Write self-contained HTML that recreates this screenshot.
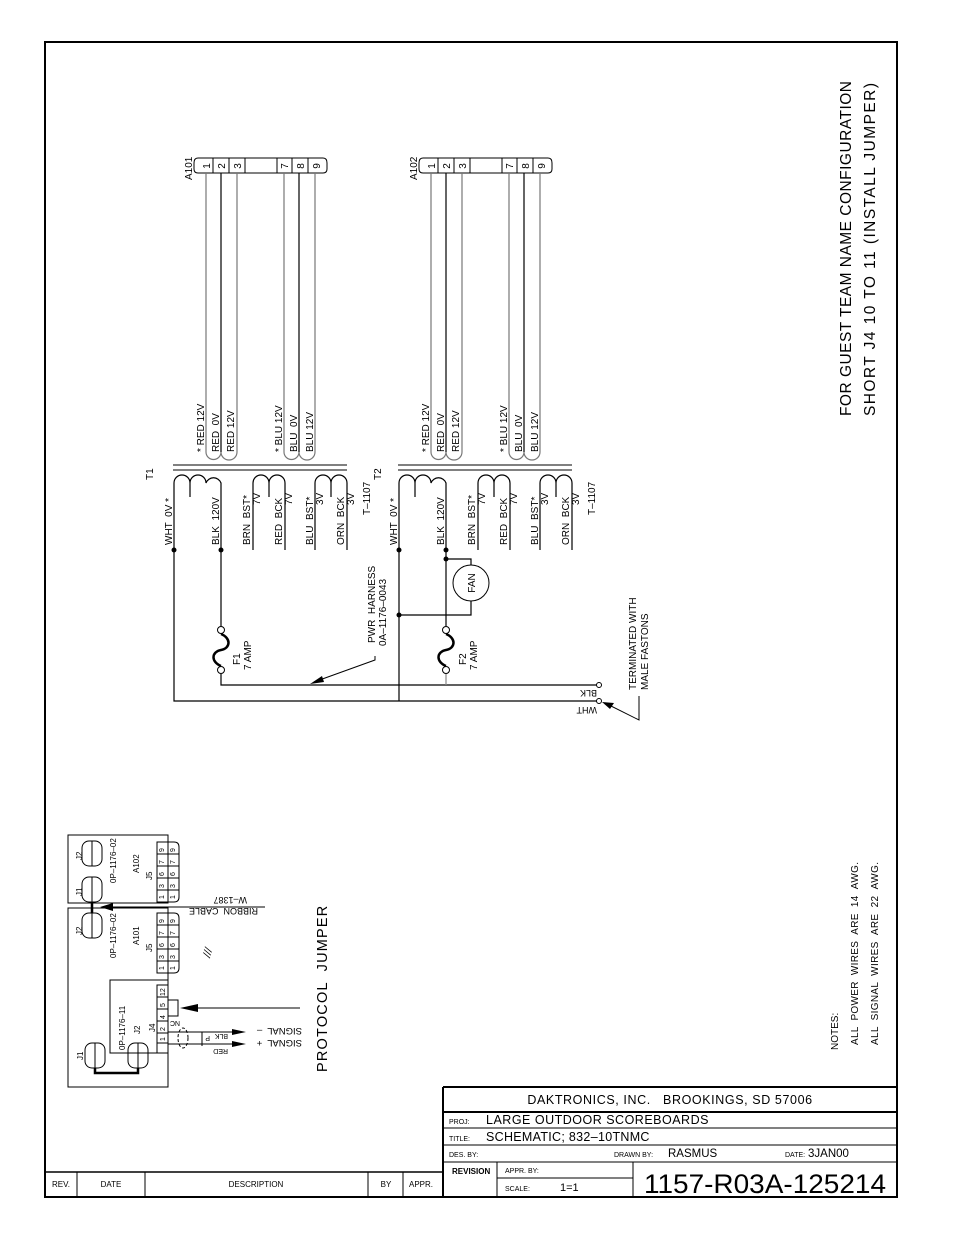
<!DOCTYPE html>
<html><head><meta charset="utf-8"><style>
html,body{margin:0;padding:0;background:#fff;}
svg{display:block;}
text{font-family:"Liberation Sans",sans-serif;fill:#000;}
</style></head><body>
<svg width="954" height="1235" viewBox="0 0 954 1235" xmlns="http://www.w3.org/2000/svg">
<defs>
<g id="xf">
 <path d="M198,158 H323 Q327,158 327,163 V169 Q327,173 323,173 H198 Q194,173 194,169 V163 Q194,158 198,158 Z" fill="none" stroke="#000" stroke-width="1"/>
 <path d="M213,158V173M229,158V173M245,158V173M277,158V173M292,158V173M308,158V173" stroke="#000" stroke-width="1"/>
 <g font-size="10">
  <text transform="translate(210,166) rotate(-90)" text-anchor="middle">1</text>
  <text transform="translate(225,166) rotate(-90)" text-anchor="middle">2</text>
  <text transform="translate(241,166) rotate(-90)" text-anchor="middle">3</text>
  <text transform="translate(288,166) rotate(-90)" text-anchor="middle">7</text>
  <text transform="translate(304,166) rotate(-90)" text-anchor="middle">8</text>
  <text transform="translate(320,166) rotate(-90)" text-anchor="middle">9</text>
 </g>
 <g fill="none" stroke-width="1.2">
  <path d="M206,173 V452 A7.5,7.5 0 0 0 221,452 A8,8 0 0 0 237,452 V173" stroke="#777"/>
  <path d="M221,173 V452" stroke="#000"/>
  <path d="M284,173 V452 A7.5,7.5 0 0 0 299,452 A8,8 0 0 0 315,452 V173" stroke="#777"/>
  <path d="M299,173 V452" stroke="#000"/>
 </g>
 <path d="M173,465H347M173,470H347" stroke="#000" stroke-width="1"/>
 <g fill="none" stroke="#000" stroke-width="1.2">
  <path d="M174,490 V483 A8,8 0 0 1 190,483 A8,8 0 0 1 206,483 A8,8 0 0 1 221,483 V550"/>
  <path d="M174,490 V550"/>
  <path d="M253,490 V483 A8,8 0 0 1 269,483 A8,8 0 0 1 285,483 V550"/>
  <path d="M253,490 V550"/>
  <path d="M315,490 V483 A8,8 0 0 1 331,483 A8,8 0 0 1 347,483 V550"/>
  <path d="M315,490 V550"/>
  <path d="M190,483 V497 M269,483V497 M331,483V497"/>
 </g>
 <circle cx="174" cy="550" r="2.5" fill="#000"/>
 <circle cx="221" cy="550" r="2.5" fill="#000"/>
 <g font-size="10">
  <text transform="translate(204,452) rotate(-90)">* RED 12V</text>
  <text transform="translate(219,452) rotate(-90)">RED &#160;0V</text>
  <text transform="translate(234,452) rotate(-90)">RED 12V</text>
  <text transform="translate(282,452) rotate(-90)">* BLU 12V</text>
  <text transform="translate(297,452) rotate(-90)">BLU &#160;0V</text>
  <text transform="translate(313,452) rotate(-90)">BLU 12V</text>
  <text transform="translate(172,545) rotate(-90)">WHT &#160;0V *</text>
  <text transform="translate(219,545) rotate(-90)">BLK &#160;120V</text>
  <text transform="translate(250,545) rotate(-90)">BRN &#160;BST*</text>
  <text transform="translate(260,505) rotate(-90)">7V</text>
  <text transform="translate(282,545) rotate(-90)">RED &#160;BCK</text>
  <text transform="translate(292,505) rotate(-90)">7V</text>
  <text transform="translate(313,545) rotate(-90)">BLU &#160;BST*</text>
  <text transform="translate(323,505) rotate(-90)">3V</text>
  <text transform="translate(344,545) rotate(-90)">ORN &#160;BCK</text>
  <text transform="translate(354,505) rotate(-90)">3V</text>
  <text transform="translate(370,515) rotate(-90)">T&#8211;1107</text>
 </g>
</g>
<g id="fuse">
 <circle cx="0" cy="0" r="3.5" fill="#fff" stroke="#000"/>
 <circle cx="0" cy="40" r="3.5" fill="#fff" stroke="#000"/>
 <path d="M0,4 C10,8 10,18 0,20 C-10,22 -10,32 0,36" fill="none" stroke="#000" stroke-width="2.5"/>
</g>
</defs>

<rect x="45" y="42" width="852" height="1155" fill="none" stroke="#000" stroke-width="2"/>

<use href="#xf"/>
<use href="#xf" transform="translate(225,0)"/>
<g font-size="10">
 <text transform="translate(192,180) rotate(-90)">A101</text>
 <text transform="translate(417,180) rotate(-90)">A102</text>
 <text transform="translate(153,480) rotate(-90)">T1</text>
 <text transform="translate(381,480) rotate(-90)">T2</text>
</g>

<g fill="none" stroke="#000" stroke-width="1.2">
 <path d="M174,550 V701 H599"/>
 <path d="M221,550 V626"/>
 <path d="M221,674 V685 H599"/>
 <path d="M399,550 V701"/>
 <path d="M399,615 H471 V601"/>
 <path d="M446,550 V626"/>
 <path d="M446,559 H471 V565"/>
 <path d="M446,674 V685" stroke="#888"/>
</g>
<circle cx="471" cy="583" r="18" fill="#fff" stroke="#000"/>
<text transform="translate(475,583) rotate(-90)" text-anchor="middle" font-size="10">FAN</text>
<circle cx="399" cy="615" r="2.5"/><circle cx="446" cy="559" r="2.5"/>
<circle cx="599" cy="685" r="2.5" fill="#fff" stroke="#000"/>
<circle cx="599" cy="701" r="2.5" fill="#fff" stroke="#000"/>
<use href="#fuse" transform="translate(221,630)"/>
<use href="#fuse" transform="translate(446,630)"/>
<g font-size="10">
 <text transform="translate(240,665) rotate(-90)">F1</text>
 <text transform="translate(251,670) rotate(-90)">7 AMP</text>
 <text transform="translate(466,665) rotate(-90)">F2</text>
 <text transform="translate(477,670) rotate(-90)">7 AMP</text>
 <text transform="translate(375,643) rotate(-90)">PWR &#160;HARNESS</text>
 <text transform="translate(386,646) rotate(-90)">0A&#8211;1176&#8211;0043</text>
 <text transform="translate(636,690) rotate(-90)">TERMINATED WITH</text>
 <text transform="translate(648,690) rotate(-90)">MALE FASTONS</text>
 <text transform="translate(597,690) rotate(180)" font-size="9">BLK</text>
 <text transform="translate(597,707) rotate(180)" font-size="9">WHT</text>
</g>
<path d="M375,656 L375,660 L314,682" fill="none" stroke="#000"/>
<path d="M310,684 L322,676 L324,682 Z"/>
<path d="M639,696 V720 L605,703" fill="none" stroke="#000"/>
<path d="M602,702 L614,703 L610,709 Z"/>

<text transform="translate(851,416) rotate(-90)" font-size="15.5" textLength="335" lengthAdjust="spacing">FOR GUEST TEAM NAME CONFIGURATION</text>
<text transform="translate(875,416) rotate(-90)" font-size="15.5" textLength="333" lengthAdjust="spacing">SHORT J4 10 TO 11 (INSTALL JUMPER)</text>
<g font-size="10">
 <text transform="translate(838,1050) rotate(-90)">NOTES:</text>
 <text transform="translate(858,1045) rotate(-90)" textLength="183">ALL &#160;POWER &#160;WIRES &#160;ARE &#160;14 &#160;AWG.</text>
 <text transform="translate(878,1045) rotate(-90)" textLength="183">ALL &#160;SIGNAL &#160;WIRES &#160;ARE &#160;22 &#160;AWG.</text>
</g>

<g fill="none" stroke="#000" stroke-width="1">
 <rect x="68" y="835" width="100" height="68"/>
 <rect x="68" y="908" width="100" height="179"/>
 <rect x="110" y="980" width="58" height="73"/>
 <path d="M157,842 H174 Q179,842 179,847 V897 Q179,902 174,902 H157 Z"/>
 <path d="M168,842V902M157,854H179M157,866H179M157,878H179M157,890H179"/>
 <path d="M157,913 H174 Q179,913 179,918 V968 Q179,973 174,973 H157 Z"/>
 <path d="M168,913V973M157,925H179M157,937H179M157,949H179M157,961H179"/>
 <path d="M157,985 H168 V1053 H157 Z"/>
 <path d="M157,997H168M157,1009H168M157,1021H168M157,1033H168M157,1043H168"/>
 <rect x="168" y="1000" width="10" height="16"/>
 <rect x="82" y="841" width="20" height="25" rx="7"/><path d="M92,841V866"/>
 <rect x="82" y="877" width="20" height="25" rx="7"/><path d="M92,877V902"/>
 <rect x="82" y="913" width="20" height="25" rx="7"/><path d="M92,913V938"/>
 <rect x="85" y="1043" width="20" height="25" rx="7"/><path d="M95,1043V1068"/>
 <rect x="128" y="1043" width="20" height="25" rx="7"/><path d="M138,1043V1068"/>
 <path d="M95,1068V1073H138V1068" stroke-width="2.5"/>
 <path d="M92,902V913" stroke-width="2.5"/>
 <path d="M265,907H102M300,1008H185M168,1032H240M168,1044H240"/>
 <ellipse cx="183" cy="1038" rx="5" ry="10" stroke-dasharray="3,2"/>
 <path d="M202,1032V1046"/>
</g>
<path d="M100,907 L113,903 L113,911 Z"/>
<path d="M180,1008 L198,1004 L198,1012 Z"/>
<path d="M246,1032 L232,1029 L232,1035 Z"/>
<path d="M246,1044 L232,1041 L232,1047 Z"/>
<g font-size="8">
 <text transform="translate(164,852) rotate(-90)" font-size="7">9</text>
 <text transform="translate(175,852) rotate(-90)" font-size="7">9</text>
 <text transform="translate(164,864) rotate(-90)" font-size="7">7</text>
 <text transform="translate(175,864) rotate(-90)" font-size="7">7</text>
 <text transform="translate(164,876) rotate(-90)" font-size="7">6</text>
 <text transform="translate(175,876) rotate(-90)" font-size="7">6</text>
 <text transform="translate(164,888) rotate(-90)" font-size="7">3</text>
 <text transform="translate(175,888) rotate(-90)" font-size="7">3</text>
 <text transform="translate(164,899) rotate(-90)" font-size="7">1</text>
 <text transform="translate(175,899) rotate(-90)" font-size="7">1</text>
 <text transform="translate(164,923) rotate(-90)" font-size="7">9</text>
 <text transform="translate(175,923) rotate(-90)" font-size="7">9</text>
 <text transform="translate(164,935) rotate(-90)" font-size="7">7</text>
 <text transform="translate(175,935) rotate(-90)" font-size="7">7</text>
 <text transform="translate(164,947) rotate(-90)" font-size="7">6</text>
 <text transform="translate(175,947) rotate(-90)" font-size="7">6</text>
 <text transform="translate(164,959) rotate(-90)" font-size="7">3</text>
 <text transform="translate(175,959) rotate(-90)" font-size="7">3</text>
 <text transform="translate(164,970) rotate(-90)" font-size="7">1</text>
 <text transform="translate(175,970) rotate(-90)" font-size="7">1</text>
 <text transform="translate(165,996) rotate(-90)" font-size="7">12</text>
 <text transform="translate(165,1007) rotate(-90)" font-size="7">5</text>
 <text transform="translate(165,1019) rotate(-90)" font-size="7">4</text>
 <text transform="translate(165,1031) rotate(-90)" font-size="7">2</text>
 <text transform="translate(165,1041) rotate(-90)" font-size="7">1</text>
 <text transform="translate(82,860) rotate(-90)">J2</text>
 <text transform="translate(82,896) rotate(-90)">J1</text>
 <text transform="translate(82,935) rotate(-90)">J2</text>
 <text transform="translate(116,883) rotate(-90)">0P&#8211;1176&#8211;02</text>
 <text transform="translate(139,873) rotate(-90)">A102</text>
 <text transform="translate(152,880) rotate(-90)">J5</text>
 <text transform="translate(116,958) rotate(-90)">0P&#8211;1176&#8211;02</text>
 <text transform="translate(139,945) rotate(-90)">A101</text>
 <text transform="translate(152,952) rotate(-90)">J5</text>
 <text transform="translate(83,1060) rotate(-90)">J1</text>
 <text transform="translate(125,1050) rotate(-90)">0P&#8211;1176&#8211;11</text>
 <text transform="translate(140,1034) rotate(-90)">J2</text>
 <text transform="translate(155,1032) rotate(-90)">J4</text>
 <text transform="translate(180,1021) rotate(180)" font-size="7">NC</text>
 <text transform="translate(210,1036) rotate(180)" font-size="7">P</text>
 <text transform="translate(228,1034) rotate(180)" font-size="7">BLK</text>
 <text transform="translate(228,1049) rotate(180)" font-size="7">RED</text>
 <text transform="translate(302,1028) rotate(180)" font-size="9.5">SIGNAL &#160;&#8211;</text>
 <text transform="translate(302,1040) rotate(180)" font-size="9.5">SIGNAL &#160;+</text>
 <text transform="translate(258,908) rotate(180)" font-size="9">RIBBON &#160;CABLE</text>
 <text transform="translate(247,897) rotate(180)" font-size="9">W&#8211;1387</text>
 <text transform="translate(210,958) rotate(-75)" font-size="11" font-style="italic">///</text>
</g>
<text transform="translate(327,1072) rotate(-90)" font-size="14.5" letter-spacing="1.2">PROTOCOL &#160;JUMPER</text>

<g fill="none" stroke="#000">
 <path d="M45,1172 H443" stroke-width="1.5"/>
 <path d="M77,1172V1197M145,1172V1197M368,1172V1197M403,1172V1197"/>
 <path d="M443,1087V1197" stroke-width="2"/>
 <path d="M443,1087H897M443,1112H897" stroke-width="2"/>
 <path d="M443,1128H897M443,1145H897M443,1162H897"/>
 <path d="M497,1162V1197M633,1162V1197M497,1178H633"/>
</g>
<g font-size="8">
 <text x="61" y="1187" text-anchor="middle">REV.</text>
 <text x="111" y="1187" text-anchor="middle">DATE</text>
 <text x="256" y="1187" text-anchor="middle">DESCRIPTION</text>
 <text x="386" y="1187" text-anchor="middle">BY</text>
 <text x="421" y="1187" text-anchor="middle">APPR.</text>
</g>
<text x="670" y="1104" text-anchor="middle" font-size="12.5" letter-spacing="0.6">DAKTRONICS, INC. &#160;&#160;BROOKINGS, SD 57006</text>
<text x="449" y="1124" font-size="7">PROJ:</text>
<text x="486" y="1124" font-size="12.5" letter-spacing="0.5">LARGE OUTDOOR SCOREBOARDS</text>
<text x="449" y="1141" font-size="7">TITLE:</text>
<text x="486" y="1141" font-size="12.5" letter-spacing="0.3">SCHEMATIC; 832&#8211;10TNMC</text>
<text x="449" y="1157" font-size="7">DES. BY:</text>
<text x="614" y="1157" font-size="7">DRAWN BY:</text>
<text x="668" y="1157" font-size="11.5">RASMUS</text>
<text x="785" y="1157" font-size="7">DATE:</text>
<text x="808" y="1157" font-size="11.5">3JAN00</text>
<text x="452" y="1174" font-size="8" font-weight="bold">REVISION</text>
<text x="505" y="1173" font-size="7">APPR. BY:</text>
<text x="505" y="1191" font-size="7">SCALE:</text>
<text x="560" y="1191" font-size="11">1=1</text>
<text x="765" y="1193" text-anchor="middle" font-size="27" textLength="242" lengthAdjust="spacingAndGlyphs">1157-R03A-125214</text>
</svg>
</body></html>
